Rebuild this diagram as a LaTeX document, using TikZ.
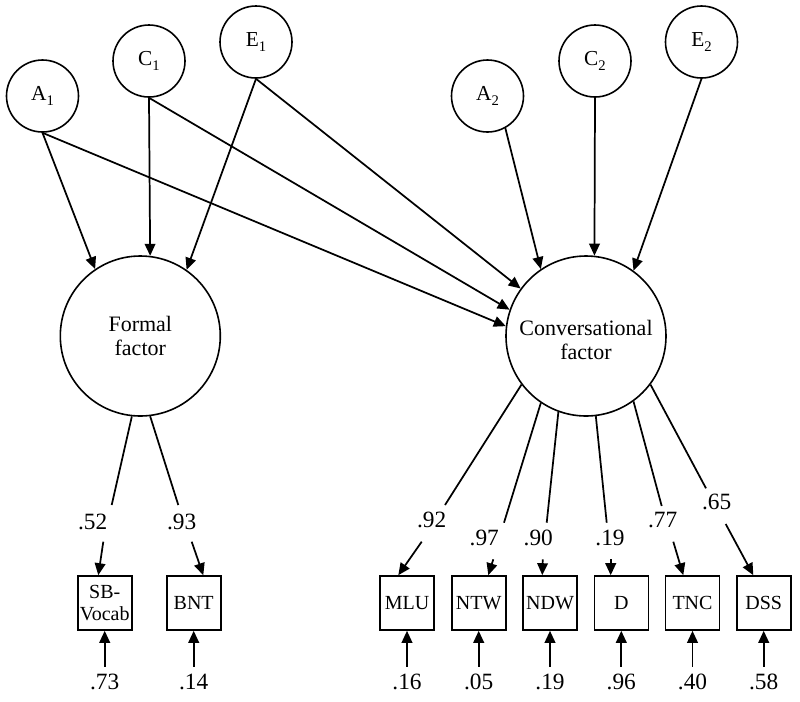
\documentclass[tikz,border=0pt]{standalone}
\usepackage{fontspec}
\setmainfont{Liberation Serif}
\usetikzlibrary{arrows.meta,calc}
\newcommand\subtxt[1]{\raisebox{-3.2pt}{\fontsize{11}{11}\selectfont #1}}
\begin{document}
\begin{tikzpicture}[x=0.75pt,y=-0.75pt,
  lat/.style={circle,draw,line width=1.2pt,minimum size=54pt,inner sep=0pt,font=\fontsize{16}{18}\selectfont},
  factor/.style={circle,draw,line width=1.2pt,minimum size=120pt,inner sep=0pt,align=center,font=\fontsize{16.5}{18.5}\selectfont},
  obs/.style={rectangle,draw,line width=1.2pt,minimum width=40.5pt,minimum height=40.5pt,inner sep=1pt,align=center,font=\fontsize{15}{16.3}\selectfont},
  num/.style={inner sep=0pt,font=\fontsize{17.5}{19}\selectfont},
  errnum/.style={inner sep=5.3pt,font=\fontsize{17.5}{19}\selectfont},
  link/.style={line width=1.3pt},
  arr/.style={line width=1.3pt,-{Triangle[length=9pt,width=8pt]}}
]
\useasboundingbox (0,0) rectangle (800,701);

% latent sources
\node[lat] (A1) at (42.5,96) {A\subtxt{1}};
\node[lat] (C1) at (149,61) {C\subtxt{1}};
\node[lat] (E1) at (256,42) {E\subtxt{1}};
\node[lat] (A2) at (487.5,96) {A\subtxt{2}};
\node[lat] (C2) at (595,61) {C\subtxt{2}};
\node[lat] (E2) at (701.5,42) {E\subtxt{2}};

% factors
\node[factor] (F) at (140.3,336) {Formal\\factor};
\node[factor] (K) at (586,336) {\raisebox{-5pt}[\height][\depth]{\begin{tabular}{@{}c@{}}Conversational\\factor\end{tabular}}};

% observed
\node[obs] (SB)  at (104.7,603) {SB-\\Vocab};
\node[obs] (BNT) at (193.7,603) {BNT};
\node[obs] (MLU) at (407,603) {MLU};
\node[obs] (NTW) at (478.7,603) {NTW};
\node[obs] (NDW) at (550,603) {NDW};
\node[obs] (D)   at (621.3,603) {D};
\node[obs] (TNC) at (692.5,603) {TNC};
\node[obs] (DSS) at (763.7,603) {DSS};

% paths to factors
\draw[arr] (A1.south) -- (F.124.8);
\draw[arr] (C1.south) -- (F.83);
\draw[arr] (E1.south) -- (F.55.6);
\draw[arr] (A1.south) -- (K.173.5);
\draw[arr] (C1.south) -- (K.161.5);
\draw[arr] (E1.south) -- (K.144.4);
\draw[arr] (A2.-61.5) -- (K.124.8);
\draw[arr] (C2.south) -- (K.84);
\draw[arr] (E2.south) -- (K.54.5);

% loadings: formal
\coordinate (l1) at (111.7,505); \coordinate (m1) at (103.3,541.7);
\draw[link] (F.-96) -- (l1);
\node[num] at (92.7,521.7) {.52};
\draw[arr] (m1) -- ($(SB.north)+(-6.4,0)$);

\coordinate (l2) at (178.3,505); \coordinate (m2) at (191.7,541.7);
\draw[link] (F.-83.6) -- (l2);
\node[num] at (181.7,521.7) {.93};
\draw[arr] (m2) -- ($(BNT.north)+(9.6,0)$);

% loadings: conversational
\coordinate (l3) at (445,505); \coordinate (m3) at (421.7,541.7);
\draw[link] (K.-143) -- (l3);
\node[num] at (431.7,520) {.92};
\draw[arr] (m3) -- ($(MLU.north)+(-8.7,0)$);

\coordinate (l4) at (504,522.7); \coordinate (m4) at (493.3,559.3);
\draw[link] (K.-124.4) -- (l4);
\node[num] at (484.3,538.3) {.97};
\draw[arr] (m4) -- ($(NTW.north)+(9.6,0)$);

\coordinate (l5) at (546.7,522.7); \coordinate (m5) at (542.7,559.3);
\draw[link] (K.-110) -- (l5);
\node[num] at (538.3,538.3) {.90};
\draw[arr] (m5) -- ($(NDW.north)+(-7.7,0)$);

\coordinate (l6) at (606.7,522.7); \coordinate (m6) at (610.7,559.3);
\draw[link] (K.-83.6) -- (l6);
\node[num] at (610,538.3) {.19};
\draw[arr] (m6) -- ($(D.north)+(-10.6,0)$);

\coordinate (l7) at (661.7,506); \coordinate (m7) at (673.3,541.7);
\draw[link] (K.-54.9) -- (l7);
\node[num] at (662.7,520) {.77};
\draw[arr] (m7) -- ($(TNC.north)+(-9.2,0)$);

\coordinate (l8) at (706,488.3); \coordinate (m8) at (725.7,524);
\draw[link] (K.-37) -- (l8);
\node[num] at (716.7,501.7) {.65};
\draw[arr] (m8) -- ($(DSS.north)+(-10.4,0)$);

% error terms
\node[errnum] (e1) at (104.7,682) {.73};
\node[errnum] (e2) at (193.7,682) {.14};
\node[errnum] (e3) at (407,682) {.16};
\node[errnum] (e4) at (478.7,682) {.05};
\node[errnum] (e5) at (550,682) {.19};
\node[errnum] (e6) at (621.3,682) {.96};
\node[errnum] (e7) at (692.5,682) {.40};
\node[errnum] (e8) at (763.7,682) {.58};
\draw[arr] (e1) -- (SB);
\draw[arr] (e2) -- (BNT);
\draw[arr] (e3) -- (MLU);
\draw[arr] (e4) -- (NTW);
\draw[arr] (e5) -- (NDW);
\draw[arr] (e6) -- (D);
\draw[arr] (e7) -- (TNC);
\draw[arr] (e8) -- (DSS);
\end{tikzpicture}
\end{document}
